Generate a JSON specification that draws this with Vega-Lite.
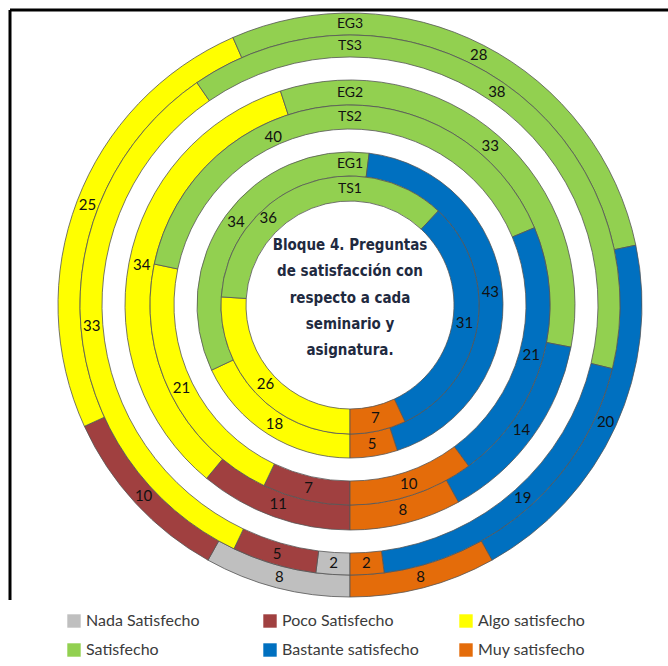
{
  "$schema": "https://vega.github.io/schema/vega-lite/v6.json",
  "autosize": "none",
  "width": 680,
  "height": 590,
  "padding": {"left": 10, "top": 10, "right": -22, "bottom": 66},
  "background": "white",
  "config": {
    "view": {"stroke": "#000", "strokeWidth": 3, "strokeDash": [1270, 680, 590, 0]},
    "style": {"view": {"stroke": "#000", "strokeWidth": 3, "strokeDash": [1270, 680, 590, 0]}},
    "legend": {
      "orient": "none", "legendX": 56, "legendY": 603, "columns": 3, "direction": "horizontal", "gridAlign": "all",
      "columnPadding": 39, "rowPadding": 13, "symbolType": "square", "symbolSize": 180,
      "symbolStrokeWidth": 0, "labelFont": "Lato", "labelFontSize": 16, "labelColor": "#3b3b3b",
      "labelOffset": 4, "title": null
    }
  },
  "datasets": {
    "rings": [
      {"ring": "EG1", "cat": "Algo satisfecho", "value": 18},
      {"ring": "EG1", "cat": "Satisfecho", "value": 34},
      {"ring": "EG1", "cat": "Bastante satisfecho", "value": 43},
      {"ring": "EG1", "cat": "Muy satisfecho", "value": 5},
      {"ring": "TS1", "cat": "Algo satisfecho", "value": 26},
      {"ring": "TS1", "cat": "Satisfecho", "value": 36},
      {"ring": "TS1", "cat": "Bastante satisfecho", "value": 31},
      {"ring": "TS1", "cat": "Muy satisfecho", "value": 7},
      {"ring": "EG2", "cat": "Poco Satisfecho", "value": 11},
      {"ring": "EG2", "cat": "Algo satisfecho", "value": 34},
      {"ring": "EG2", "cat": "Satisfecho", "value": 33},
      {"ring": "EG2", "cat": "Bastante satisfecho", "value": 14},
      {"ring": "EG2", "cat": "Muy satisfecho", "value": 8},
      {"ring": "TS2", "cat": "Poco Satisfecho", "value": 7},
      {"ring": "TS2", "cat": "Algo satisfecho", "value": 21},
      {"ring": "TS2", "cat": "Satisfecho", "value": 40},
      {"ring": "TS2", "cat": "Bastante satisfecho", "value": 21},
      {"ring": "TS2", "cat": "Muy satisfecho", "value": 10},
      {"ring": "EG3", "cat": "Nada Satisfecho", "value": 8},
      {"ring": "EG3", "cat": "Poco Satisfecho", "value": 10},
      {"ring": "EG3", "cat": "Algo satisfecho", "value": 25},
      {"ring": "EG3", "cat": "Satisfecho", "value": 28},
      {"ring": "EG3", "cat": "Bastante satisfecho", "value": 20},
      {"ring": "EG3", "cat": "Muy satisfecho", "value": 8},
      {"ring": "TS3", "cat": "Nada Satisfecho", "value": 2},
      {"ring": "TS3", "cat": "Poco Satisfecho", "value": 5},
      {"ring": "TS3", "cat": "Algo satisfecho", "value": 33},
      {"ring": "TS3", "cat": "Satisfecho", "value": 38},
      {"ring": "TS3", "cat": "Bastante satisfecho", "value": 19},
      {"ring": "TS3", "cat": "Muy satisfecho", "value": 2}
    ],
    "title": [
      {"title": "Bloque 4. Preguntas\nde satisfacción con\nrespecto a cada\nseminario y\nasignatura."}
    ]
  },
  "layer": [
    {
      "data": {"name": "rings"},
      "transform": [
        {"filter": "datum.ring === 'EG3'"},
        {"calculate": "indexof(['Nada Satisfecho','Poco Satisfecho','Algo satisfecho','Satisfecho','Bastante satisfecho','Muy satisfecho'], datum.cat)", "as": "ord"}
      ],
      "layer": [
        {"mark": {"type": "arc", "radius": 292, "radius2": 270, "stroke": "#555", "strokeWidth": 0.8},
         "encoding": {
           "theta": {"field": "value", "type": "quantitative", "stack": "normalize", "scale": {"range": [3.14159265, 9.42477796]}},
           "color": {"field": "cat", "type": "nominal",
             "scale": {"domain": ["Nada Satisfecho", "Poco Satisfecho", "Algo satisfecho", "Satisfecho", "Bastante satisfecho", "Muy satisfecho"],
                       "range": ["#BFBFBF", "#A04040", "#FFFF00", "#92D050", "#0070C0", "#E46C0A"]}},
           "order": {"field": "ord", "type": "quantitative"}}},
        {"mark": {"type": "text", "radius": 281, "font": "Lato", "fontSize": 15, "fill": "#111"},
         "encoding": {
           "theta": {"field": "value", "type": "quantitative", "stack": "normalize"},
           "detail": {"field": "cat"},
           "order": {"field": "ord", "type": "quantitative"},
           "text": {"field": "value"}}},
        {"transform": [{"aggregate": [{"op": "count", "as": "n"}], "groupby": ["ring"]}],
         "mark": {"type": "text", "radius": 281, "theta": 0, "font": "Lato", "fontSize": 14, "fill": "#111"},
         "encoding": {"text": {"field": "ring"}}}
      ]
    },
    {
      "data": {"name": "rings"},
      "transform": [
        {"filter": "datum.ring === 'TS3'"},
        {"calculate": "indexof(['Nada Satisfecho','Poco Satisfecho','Algo satisfecho','Satisfecho','Bastante satisfecho','Muy satisfecho'], datum.cat)", "as": "ord"}
      ],
      "layer": [
        {"mark": {"type": "arc", "radius": 270, "radius2": 248, "stroke": "#555", "strokeWidth": 0.8},
         "encoding": {
           "theta": {"field": "value", "type": "quantitative", "stack": "normalize"},
           "color": {"field": "cat", "type": "nominal"},
           "order": {"field": "ord", "type": "quantitative"}}},
        {"mark": {"type": "text", "radius": 259, "font": "Lato", "fontSize": 15, "fill": "#111"},
         "encoding": {
           "theta": {"field": "value", "type": "quantitative", "stack": "normalize"},
           "detail": {"field": "cat"},
           "order": {"field": "ord", "type": "quantitative"},
           "text": {"field": "value"}}},
        {"transform": [{"aggregate": [{"op": "count", "as": "n"}], "groupby": ["ring"]}],
         "mark": {"type": "text", "radius": 259, "theta": 0, "font": "Lato", "fontSize": 14, "fill": "#111"},
         "encoding": {"text": {"field": "ring"}}}
      ]
    },
    {
      "data": {"name": "rings"},
      "transform": [
        {"filter": "datum.ring === 'EG2'"},
        {"calculate": "indexof(['Nada Satisfecho','Poco Satisfecho','Algo satisfecho','Satisfecho','Bastante satisfecho','Muy satisfecho'], datum.cat)", "as": "ord"}
      ],
      "layer": [
        {"mark": {"type": "arc", "radius": 225, "radius2": 200, "stroke": "#555", "strokeWidth": 0.8},
         "encoding": {
           "theta": {"field": "value", "type": "quantitative", "stack": "normalize"},
           "color": {"field": "cat", "type": "nominal"},
           "order": {"field": "ord", "type": "quantitative"}}},
        {"mark": {"type": "text", "radius": 212, "font": "Lato", "fontSize": 15, "fill": "#111"},
         "encoding": {
           "theta": {"field": "value", "type": "quantitative", "stack": "normalize"},
           "detail": {"field": "cat"},
           "order": {"field": "ord", "type": "quantitative"},
           "text": {"field": "value"}}},
        {"transform": [{"aggregate": [{"op": "count", "as": "n"}], "groupby": ["ring"]}],
         "mark": {"type": "text", "radius": 212, "theta": 0, "font": "Lato", "fontSize": 14, "fill": "#111"},
         "encoding": {"text": {"field": "ring"}}}
      ]
    },
    {
      "data": {"name": "rings"},
      "transform": [
        {"filter": "datum.ring === 'TS2'"},
        {"calculate": "indexof(['Nada Satisfecho','Poco Satisfecho','Algo satisfecho','Satisfecho','Bastante satisfecho','Muy satisfecho'], datum.cat)", "as": "ord"}
      ],
      "layer": [
        {"mark": {"type": "arc", "radius": 200, "radius2": 176, "stroke": "#555", "strokeWidth": 0.8},
         "encoding": {
           "theta": {"field": "value", "type": "quantitative", "stack": "normalize"},
           "color": {"field": "cat", "type": "nominal"},
           "order": {"field": "ord", "type": "quantitative"}}},
        {"mark": {"type": "text", "radius": 188, "font": "Lato", "fontSize": 15, "fill": "#111",
                  "dx": {"expr": "datum.cat === 'Satisfecho' ? -59 : 0"},
                  "dy": {"expr": "datum.cat === 'Satisfecho' ? 19 : 0"}},
         "encoding": {
           "theta": {"field": "value", "type": "quantitative", "stack": "normalize"},
           "detail": {"field": "cat"},
           "order": {"field": "ord", "type": "quantitative"},
           "text": {"field": "value"}}},
        {"transform": [{"aggregate": [{"op": "count", "as": "n"}], "groupby": ["ring"]}],
         "mark": {"type": "text", "radius": 188, "theta": 0, "font": "Lato", "fontSize": 14, "fill": "#111"},
         "encoding": {"text": {"field": "ring"}}}
      ]
    },
    {
      "data": {"name": "rings"},
      "transform": [
        {"filter": "datum.ring === 'EG1'"},
        {"calculate": "indexof(['Nada Satisfecho','Poco Satisfecho','Algo satisfecho','Satisfecho','Bastante satisfecho','Muy satisfecho'], datum.cat)", "as": "ord"}
      ],
      "layer": [
        {"mark": {"type": "arc", "radius": 153, "radius2": 129, "stroke": "#555", "strokeWidth": 0.8},
         "encoding": {
           "theta": {"field": "value", "type": "quantitative", "stack": "normalize"},
           "color": {"field": "cat", "type": "nominal"},
           "order": {"field": "ord", "type": "quantitative"}}},
        {"mark": {"type": "text", "radius": 141, "font": "Lato", "fontSize": 15, "fill": "#111"},
         "encoding": {
           "theta": {"field": "value", "type": "quantitative", "stack": "normalize"},
           "detail": {"field": "cat"},
           "order": {"field": "ord", "type": "quantitative"},
           "text": {"field": "value"}}},
        {"transform": [{"aggregate": [{"op": "count", "as": "n"}], "groupby": ["ring"]}],
         "mark": {"type": "text", "radius": 141, "theta": 0, "font": "Lato", "fontSize": 14, "fill": "#111"},
         "encoding": {"text": {"field": "ring"}}}
      ]
    },
    {
      "data": {"name": "rings"},
      "transform": [
        {"filter": "datum.ring === 'TS1'"},
        {"calculate": "indexof(['Nada Satisfecho','Poco Satisfecho','Algo satisfecho','Satisfecho','Bastante satisfecho','Muy satisfecho'], datum.cat)", "as": "ord"}
      ],
      "layer": [
        {"mark": {"type": "arc", "radius": 129, "radius2": 104, "stroke": "#555", "strokeWidth": 0.8},
         "encoding": {
           "theta": {"field": "value", "type": "quantitative", "stack": "normalize"},
           "color": {"field": "cat", "type": "nominal"},
           "order": {"field": "ord", "type": "quantitative"}}},
        {"mark": {"type": "text", "radius": 116, "font": "Lato", "fontSize": 15, "fill": "#111",
                  "dx": {"expr": "datum.cat === 'Satisfecho' ? -39 : 0"},
                  "dy": {"expr": "datum.cat === 'Satisfecho' ? 21 : 0"}},
         "encoding": {
           "theta": {"field": "value", "type": "quantitative", "stack": "normalize"},
           "detail": {"field": "cat"},
           "order": {"field": "ord", "type": "quantitative"},
           "text": {"field": "value"}}},
        {"transform": [{"aggregate": [{"op": "count", "as": "n"}], "groupby": ["ring"]}],
         "mark": {"type": "text", "radius": 116, "theta": 0, "font": "Lato", "fontSize": 14, "fill": "#111"},
         "encoding": {"text": {"field": "ring"}}}
      ]
    },
    {
      "data": {"name": "title"},
      "mark": {"type": "text", "lineBreak": "\n", "lineHeight": 26.3, "font": "DejaVu Sans Condensed, Roboto", "fontWeight": "bold", "fontSize": 15, "fill": "#1F2A40", "dy": -60},
      "encoding": {"text": {"field": "title"}}
    }
  ]
}
